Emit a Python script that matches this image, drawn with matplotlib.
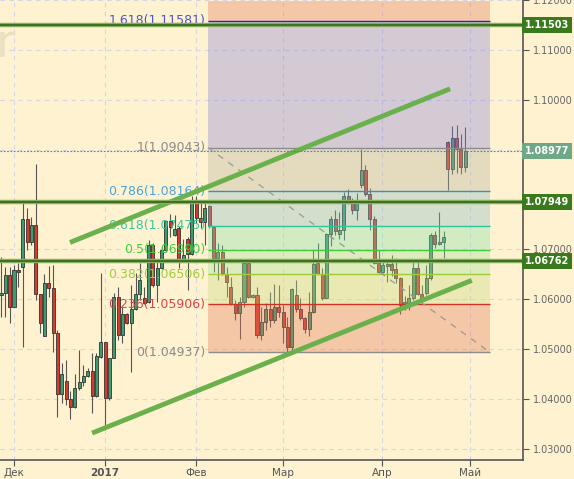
import matplotlib
matplotlib.use('Agg')
import matplotlib.pyplot as plt
from matplotlib.patches import Rectangle
import matplotlib.transforms as mtransforms

# daily EUR/USD candles (one row per bar)
opens = [1.0608, 1.0612, 1.0648, 1.0584, 1.0658, 1.0664, 1.0762, 1.0714, 1.0750, 1.0610,
         1.0526, 1.0632, 1.0622, 1.0532, 1.0410, 1.0436, 1.0400, 1.0384, 1.0422, 1.0434,
         1.0446, 1.0456, 1.0406, 1.0484, 1.0514, 1.0402, 1.0482, 1.0604, 1.0528, 1.0570,
         1.0552, 1.0580, 1.0610, 1.0602, 1.0594, 1.0708, 1.0628, 1.0662, 1.0698, 1.0758,
         1.0728, 1.0744, 1.0678, 1.0720, 1.0690, 1.0794, 1.0764, 1.0756, 1.0788, 1.0746,
         1.0682, 1.0694, 1.0650, 1.0624, 1.0590, 1.0572, 1.0594, 1.0672, 1.0604, 1.0608,
         1.0528, 1.0554, 1.0580, 1.0558, 1.0584, 1.0574, 1.0544, 1.0504, 1.0608, 1.0580,
         1.0562, 1.0540, 1.0574, 1.0672, 1.0650, 1.0602, 1.0730, 1.0762, 1.0730, 1.0738,
         1.0808, 1.0794, 1.0780, 1.0830, 1.0860, 1.0812, 1.0762, 1.0672, 1.0654, 1.0666,
         1.0670, 1.0660, 1.0642, 1.0594, 1.0592, 1.0602, 1.0662, 1.0610, 1.0612, 1.0642,
         1.0728, 1.0710, 1.0714, 1.0916, 1.0862, 1.0924, 1.0902, 1.0866]
highs = [1.0684, 1.0664, 1.0664, 1.0668, 1.0672, 1.0794, 1.0784, 1.0766, 1.0872, 1.0610,
         1.0650, 1.0666, 1.0668, 1.0538, 1.0472, 1.0478, 1.0416, 1.0450, 1.0498, 1.0468,
         1.0462, 1.0492, 1.0492, 1.0652, 1.0514, 1.0482, 1.0612, 1.0624, 1.0584, 1.0572,
         1.0628, 1.0652, 1.0672, 1.0624, 1.0718, 1.0712, 1.0678, 1.0704, 1.0760, 1.0772,
         1.0770, 1.0748, 1.0720, 1.0724, 1.0808, 1.0808, 1.0794, 1.0794, 1.0790, 1.0748,
         1.0712, 1.0708, 1.0664, 1.0644, 1.0598, 1.0604, 1.0674, 1.0674, 1.0610, 1.0624,
         1.0584, 1.0592, 1.0614, 1.0630, 1.0628, 1.0588, 1.0564, 1.0622, 1.0638, 1.0602,
         1.0564, 1.0614, 1.0698, 1.0712, 1.0662, 1.0732, 1.0768, 1.0780, 1.0776, 1.0816,
         1.0822, 1.0804, 1.0814, 1.0902, 1.0870, 1.0824, 1.0768, 1.0698, 1.0680, 1.0674,
         1.0688, 1.0682, 1.0644, 1.0606, 1.0628, 1.0674, 1.0674, 1.0628, 1.0668, 1.0732,
         1.0736, 1.0776, 1.0736, 1.0918, 1.0948, 1.0950, 1.0932, 1.0946]
lows = [1.0564, 1.0564, 1.0552, 1.0584, 1.0624, 1.0504, 1.0698, 1.0708, 1.0598, 1.0532,
        1.0526, 1.0604, 1.0494, 1.0364, 1.0392, 1.0388, 1.0360, 1.0382, 1.0418, 1.0426,
        1.0444, 1.0372, 1.0404, 1.0482, 1.0342, 1.0398, 1.0482, 1.0518, 1.0512, 1.0550,
        1.0454, 1.0578, 1.0598, 1.0590, 1.0592, 1.0624, 1.0594, 1.0660, 1.0694, 1.0724,
        1.0726, 1.0662, 1.0674, 1.0618, 1.0688, 1.0754, 1.0744, 1.0708, 1.0744, 1.0654,
        1.0638, 1.0648, 1.0604, 1.0588, 1.0558, 1.0520, 1.0584, 1.0602, 1.0602, 1.0522,
        1.0518, 1.0538, 1.0544, 1.0552, 1.0564, 1.0512, 1.0494, 1.0498, 1.0574, 1.0558,
        1.0532, 1.0526, 1.0572, 1.0648, 1.0598, 1.0600, 1.0706, 1.0728, 1.0720, 1.0718,
        1.0792, 1.0772, 1.0760, 1.0824, 1.0808, 1.0738, 1.0670, 1.0652, 1.0652, 1.0634,
        1.0646, 1.0632, 1.0570, 1.0578, 1.0578, 1.0598, 1.0608, 1.0594, 1.0608, 1.0638,
        1.0702, 1.0708, 1.0682, 1.0820, 1.0852, 1.0854, 1.0852, 1.0856]
closes = [1.0612, 1.0648, 1.0584, 1.0658, 1.0654, 1.0762, 1.0714, 1.0750, 1.0610, 1.0552,
          1.0632, 1.0622, 1.0532, 1.0410, 1.0450, 1.0400, 1.0384, 1.0422, 1.0434, 1.0446,
          1.0456, 1.0406, 1.0486, 1.0514, 1.0402, 1.0482, 1.0604, 1.0528, 1.0570, 1.0552,
          1.0580, 1.0610, 1.0638, 1.0592, 1.0708, 1.0628, 1.0662, 1.0698, 1.0758, 1.0746,
          1.0742, 1.0678, 1.0688, 1.0690, 1.0794, 1.0764, 1.0756, 1.0784, 1.0748, 1.0682,
          1.0694, 1.0652, 1.0634, 1.0590, 1.0572, 1.0594, 1.0672, 1.0604, 1.0608, 1.0528,
          1.0554, 1.0580, 1.0558, 1.0584, 1.0574, 1.0544, 1.0504, 1.0620, 1.0580, 1.0562,
          1.0540, 1.0574, 1.0670, 1.0650, 1.0602, 1.0730, 1.0762, 1.0736, 1.0738, 1.0808,
          1.0796, 1.0780, 1.0794, 1.0860, 1.0812, 1.0762, 1.0672, 1.0654, 1.0668, 1.0670,
          1.0658, 1.0642, 1.0588, 1.0588, 1.0602, 1.0662, 1.0610, 1.0600, 1.0642, 1.0728,
          1.0710, 1.0714, 1.0724, 1.0862, 1.0924, 1.0902, 1.0866, 1.08977]

month_labels = ['Дек', '2017', 'Фев', 'Мар', 'Апр', 'Май']
month_pos = [3.0, 24.0, 44.9, 65.0, 87.8, 108.1]   # in bar index units

fib_ratios = ['1.618', '1', '0.786', '0.618', '0.5', '0.382', '0.236', '0']
fib_prices = [1.11581, 1.09043, 1.08164, 1.07475, 1.06990, 1.06506, 1.05906, 1.04937]
fib_start, fib_end = 47.7, 112.7

levels = [1.11503, 1.07949, 1.06762]
last_price = 1.08977

upper_channel = ([15.9, 103.5], [1.0714, 1.1022])
lower_channel = ([21.0, 108.5], [1.0332, 1.0638])

bg = '#fff2d0'
fig = plt.figure(figsize=(5.74, 4.79), dpi=100, facecolor=bg)
ax = fig.add_axes([0, 19/479, 523/574, 460/479])
ax.set_facecolor(bg)
ymin, ymax = 1.0278, 1.1198
ax.set_xlim(-0.23, 120.3)
ax.set_ylim(ymin, ymax)

# candles
for i in range(len(opens)):
    o, h, l, c = opens[i], highs[i], lows[i], closes[i]
    up = c >= o
    ax.vlines(i, l, h, color='#555555', lw=0.8, zorder=2)
    ax.add_patch(Rectangle((i - 0.35, min(o, c)), 0.7, max(abs(c - o), 0.00015),
                           facecolor='#3c9c6c' if up else '#d9382a',
                           edgecolor='#333333', lw=0.6, zorder=3))

# fibonacci zones (drawn over candles, semi transparent)
zone_colors = ['#e27d5e', '#8a83d9', '#b5b3a2', '#87bfc5', '#83e1ae', '#a6e197', '#c8db80', '#e27d5e']
bounds = [ymax] + fib_prices
for k in range(len(zone_colors)):
    ax.add_patch(Rectangle((fib_start, bounds[k + 1]), fib_end - fib_start,
                           bounds[k] - bounds[k + 1], facecolor=zone_colors[k],
                           edgecolor='none', alpha=0.36, zorder=4))

line_cols = ['#2424cc', '#8c8c8c', '#3a8fb7', '#2fc49a', '#3ccc3c', '#9ccc3a', '#cc3322', '#8c8c8c']
text_cols = ['#5050d0', '#8a8a8a', '#4aa3dc', '#3cc8a0', '#40d040', '#a0cc40', '#dd4444', '#8a8a8a']
for k in range(len(fib_prices)):
    ax.hlines(fib_prices[k], fib_start, fib_end, color=line_cols[k], lw=1.0, zorder=5)
    ax.text(fib_start - 0.6, fib_prices[k], '%s(%.5f)' % (fib_ratios[k], fib_prices[k]),
            ha='right', va='center', fontsize=9, color=text_cols[k], zorder=6)

ax.plot([fib_start, fib_end], [fib_prices[1], fib_prices[-1]], color='#999999',
        lw=0.9, ls=(0, (5, 5)), zorder=5)

# channel
ax.plot(*upper_channel, color='#6ab04c', lw=3.5, solid_capstyle='butt', zorder=7)
ax.plot(*lower_channel, color='#6ab04c', lw=3.5, solid_capstyle='butt', zorder=7)

# horizontal levels
for lv in levels:
    ax.axhline(lv, color='#86b060', lw=3.2, zorder=7)
    ax.axhline(lv, color='#3f7022', lw=1.4, zorder=7)
ax.axhline(last_price, color='#3a9a6a', lw=0.8, ls=(0, (1.5, 1.5)), zorder=7)

tr = mtransforms.blended_transform_factory(ax.transAxes, ax.transData)
for lv in levels:
    ax.text(1.004, lv, '%.5f' % lv, transform=tr, ha='left', va='center', fontsize=7,
            fontweight='bold', color='white', clip_on=False, zorder=9,
            bbox=dict(boxstyle='square,pad=0.3', fc='#3a7a1c', ec='none'))
ax.text(1.004, last_price, '%.5f' % last_price, transform=tr, ha='left', va='center',
        fontsize=7, fontweight='bold', color='white', clip_on=False, zorder=9,
        bbox=dict(boxstyle='square,pad=0.3', fc='#6fa886', ec='none'))

# axes styling
ax.yaxis.tick_right()
yt = [1.03, 1.04, 1.05, 1.06, 1.07, 1.08, 1.09, 1.10, 1.11, 1.12]
ax.set_yticks(yt)
# 1.08 / 1.09 sit under the price boxes in the original
ax.set_yticklabels(['' if v in (1.08, 1.09) else '%.5f' % v for v in yt])
ax.set_xticks(month_pos)
ax.set_xticklabels(month_labels)
for lab in ax.get_xticklabels():
    if lab.get_text() == '2017':
        lab.set_fontweight('bold')
ax.tick_params(axis='y', labelsize=7, labelcolor='#666666', color='#555555', length=4, pad=3)
ax.tick_params(axis='x', labelsize=7.5, labelcolor='#555555', color='#555555', length=4, pad=2)
for s in ['top', 'left']:
    ax.spines[s].set_visible(False)
for s in ['right', 'bottom']:
    ax.spines[s].set_color('#555555')
    ax.spines[s].set_linewidth(1.2)
ax.grid(True, color='#d5d5e8', lw=0.8, ls=(0, (4, 4)), zorder=1)
ax.set_axisbelow(True)

# faint watermark remnant
fig.text(-0.008, 1 - 57/479, 'r', fontsize=34, color='#eadfc3', va='baseline', zorder=0)

fig.savefig('out.png', dpi=100, facecolor=bg)
